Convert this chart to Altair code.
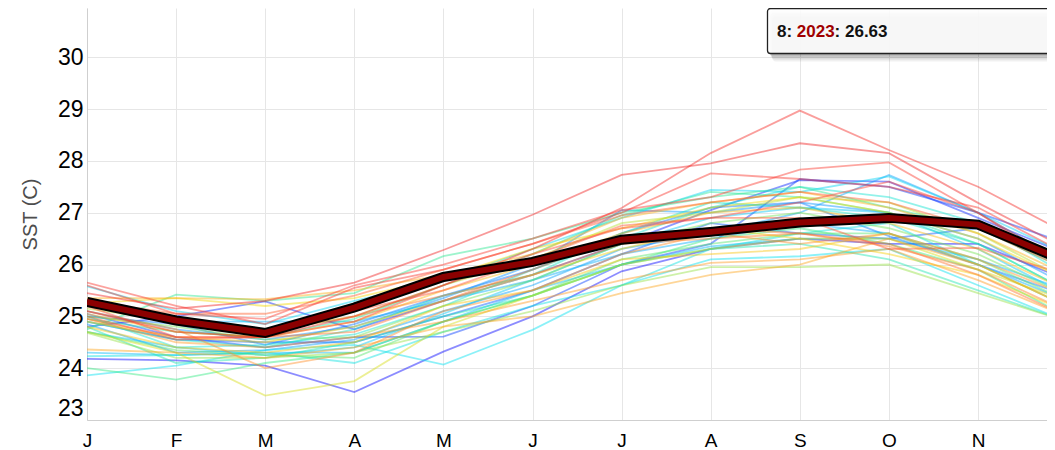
import altair as alt
import pandas as pd

month_labels = ["J", "F", "M", "A", "M", "J", "J", "A", "S", "O", "N", "D"]
months = list(range(1, 13))

y1982 = [24.18, 24.15, 24.05, 23.54, 24.32, 25.00, 25.87, 26.30, 26.50, 26.40, 26.40, 25.70]
y1983 = [24.80, 25.00, 25.29, 24.75, 25.30, 25.80, 26.40, 27.05, 27.63, 27.60, 26.90, 26.20]
y1984 = [25.05, 24.60, 24.40, 24.60, 24.61, 25.20, 26.00, 26.40, 27.65, 27.50, 27.00, 26.40]
y1985 = [24.90, 24.55, 24.50, 24.50, 25.00, 25.50, 26.20, 26.80, 26.60, 26.50, 26.70, 26.00]
y1986 = [25.00, 24.85, 24.45, 24.85, 25.40, 25.90, 26.60, 27.10, 27.20, 26.55, 26.00, 25.40]
y1987 = [25.10, 24.75, 24.55, 24.80, 25.35, 26.00, 27.05, 27.00, 27.20, 27.00, 26.50, 25.60]
y1988 = [24.85, 24.30, 24.35, 24.55, 25.10, 25.60, 26.30, 26.60, 27.00, 27.73, 27.00, 26.00]
y1989 = [25.20, 24.90, 24.90, 24.90, 25.30, 25.70, 26.20, 26.50, 26.80, 26.60, 26.00, 25.30]
y1990 = [24.30, 24.25, 24.30, 24.30, 24.90, 25.50, 26.00, 26.35, 26.50, 26.50, 26.10, 25.50]
y1991 = [24.70, 24.40, 24.25, 24.40, 25.05, 25.70, 26.40, 26.90, 27.10, 27.00, 26.30, 25.40]
y1992 = [25.58, 25.10, 24.85, 25.30, 25.70, 26.30, 26.90, 27.44, 27.40, 27.70, 27.00, 26.20]
y1993 = [23.86, 24.05, 24.35, 24.45, 24.07, 24.74, 25.60, 26.10, 26.16, 26.30, 25.60, 24.90]
y1994 = [24.23, 24.25, 24.30, 24.10, 24.70, 25.20, 25.60, 26.30, 26.60, 26.80, 26.00, 25.20]
y1995 = [25.00, 24.40, 24.45, 24.65, 25.20, 25.90, 26.50, 27.10, 27.50, 27.30, 26.80, 25.80]
y1996 = [24.90, 24.55, 24.40, 24.75, 25.40, 25.80, 26.60, 27.20, 27.10, 26.90, 26.40, 25.50]
y1997 = [24.80, 24.10, 24.20, 24.50, 25.00, 25.40, 26.00, 26.30, 26.40, 26.10, 25.50, 24.90]
y1998 = [24.95, 24.70, 24.60, 24.95, 25.60, 26.20, 26.95, 27.40, 27.30, 27.00, 26.40, 25.50]
y1999 = [24.75, 25.42, 25.30, 25.45, 26.16, 26.50, 27.00, 27.30, 27.50, 27.10, 26.70, 25.90]
y2000 = [24.00, 23.78, 24.10, 24.30, 24.90, 25.40, 26.00, 26.50, 26.70, 26.40, 25.90, 25.00]
y2001 = [24.70, 24.35, 24.25, 24.20, 24.90, 25.40, 26.10, 26.40, 26.60, 26.60, 26.10, 25.30]
y2002 = [25.00, 24.80, 24.55, 24.60, 25.20, 25.70, 26.40, 26.80, 27.00, 26.70, 26.20, 25.40]
y2003 = [24.68, 24.20, 24.20, 24.30, 24.70, 25.10, 25.60, 25.95, 25.95, 26.00, 25.45, 24.90]
y2004 = [25.15, 24.90, 24.70, 25.00, 25.60, 26.10, 26.80, 27.00, 27.30, 27.20, 26.60, 25.70]
y2005 = [24.70, 24.30, 23.47, 23.75, 24.80, 25.40, 26.00, 26.30, 26.50, 26.50, 25.90, 25.30]
y2006 = [25.25, 25.35, 25.20, 25.35, 25.75, 26.30, 26.70, 27.10, 27.30, 27.00, 26.50, 25.70]
y2007 = [24.90, 24.60, 24.50, 24.80, 25.30, 25.80, 26.30, 26.70, 26.50, 26.20, 25.80, 25.10]
y2008 = [24.80, 24.40, 24.30, 24.50, 25.20, 25.50, 26.10, 26.20, 26.30, 26.60, 26.00, 25.20]
y2009 = [25.05, 24.70, 24.60, 24.90, 25.50, 26.00, 26.60, 27.00, 27.10, 26.80, 26.30, 25.50]
y2010 = [25.35, 25.35, 25.33, 25.50, 25.80, 26.20, 26.90, 27.20, 27.40, 27.10, 26.60, 25.80]
y2011 = [24.36, 24.30, 24.20, 24.40, 24.80, 25.00, 25.45, 25.80, 26.00, 26.50, 26.00, 25.20]
y2012 = [24.95, 24.50, 24.40, 24.60, 24.90, 25.30, 25.70, 26.03, 26.10, 26.30, 25.70, 25.00]
y2013 = [25.10, 24.75, 24.00, 24.30, 25.10, 25.50, 26.20, 26.60, 26.40, 26.60, 26.10, 25.40]
y2014 = [25.20, 24.90, 24.70, 25.00, 25.40, 25.80, 26.40, 26.50, 26.60, 26.35, 25.90, 25.10]
y2015 = [24.95, 24.60, 24.60, 24.70, 25.30, 25.90, 26.55, 26.70, 26.60, 26.40, 25.80, 25.00]
y2016 = [25.30, 25.05, 25.05, 25.40, 25.90, 26.40, 26.95, 27.20, 27.40, 27.20, 26.70, 25.90]
y2017 = [25.00, 24.55, 24.60, 25.10, 25.50, 26.10, 26.75, 26.90, 26.90, 26.30, 26.32, 25.80]
y2018 = [25.20, 24.60, 24.60, 24.90, 25.60, 26.20, 26.70, 26.90, 27.20, 27.60, 27.00, 26.00]
y2019 = [25.60, 25.05, 24.95, 25.60, 26.00, 26.50, 27.05, 27.30, 27.83, 27.97, 27.00, 25.90]
y2020 = [25.65, 25.20, 24.85, 25.55, 25.90, 26.40, 27.00, 27.76, 27.65, 27.50, 27.10, 26.20]
y2021 = [25.10, 24.70, 24.60, 25.00, 25.60, 26.30, 27.09, 28.15, 28.97, 28.21, 27.50, 26.60]
y2022 = [25.45, 25.15, 25.30, 25.65, 26.28, 26.96, 27.73, 27.95, 28.34, 28.15, 27.19, 26.30]

sst_2023 = [25.28, 24.92, 24.68, 25.17, 25.76, 26.05, 26.48, 26.63, 26.81, 26.90, 26.77, 26.05]

years = list(range(1982, 2023))
series = [y1982, y1983, y1984, y1985, y1986, y1987, y1988, y1989, y1990, y1991,
          y1992, y1993, y1994, y1995, y1996, y1997, y1998, y1999, y2000, y2001,
          y2002, y2003, y2004, y2005, y2006, y2007, y2008, y2009, y2010, y2011,
          y2012, y2013, y2014, y2015, y2016, y2017, y2018, y2019, y2020, y2021,
          y2022]

color_stops = [1982, 1987, 1993, 2000, 2006, 2012, 2018, 2022]
color_range = ["#0000ff", "#0090ff", "#00e0f0", "#30e880", "#f5d800", "#ff9a20", "#ff4030", "#f02020"]

rows = []
for yr, vals in zip(years, series):
    for m, v in zip(months, vals):
        rows.append({"year": yr, "month": m, "sst": v})
df = pd.DataFrame(rows)
df23 = pd.DataFrame({"month": months, "sst": sst_2023})

tip_month = 8
tip_year = "2023"
tip_value = f"{sst_2023[tip_month - 1]:.2f}"

FONT = "Liberation Sans"
NARROW = "Liberation Sans Narrow, Arial Narrow, Liberation Sans"
label_js = "[" + ",".join(f"'{s}'" for s in month_labels) + "]"

PLOT_W = 960
xscale = alt.Scale(domain=[1, 1 + PLOT_W / 89.1], nice=False, zero=False)
yscale = alt.Scale(domain=[23, 30.95], nice=False, zero=False)

x_enc = alt.X("month:Q", scale=xscale, title=None,
              axis=alt.Axis(values=months, labelExpr=f"{label_js}[datum.value-1]",
                            labelFontSize=19, labelColor="#000", labelFont=NARROW,
                            labelPadding=11, tickSize=0, domainColor="#cfcfcf",
                            gridColor="#e6e6e6", labelFlush=False, labelOverlap=False))
y_enc = alt.Y("sst:Q", scale=yscale, title="SST (C)",
              axis=alt.Axis(values=list(range(23, 31)), labelFontSize=23, labelColor="#000",
                            labelFont=NARROW, labelPadding=4, tickSize=0, domainColor="#cfcfcf",
                            gridColor="#e6e6e6", labelFlush=True, titleFont=FONT,
                            titleFontSize=20, titleFontWeight="normal", titleColor="#4d4d4d",
                            titlePadding=17))

lines = alt.Chart(df).mark_line(strokeWidth=1.8, opacity=0.45, clip=True).encode(
    x=x_enc, y=y_enc,
    color=alt.Color("year:Q", scale=alt.Scale(domain=color_stops, range=color_range,
                                              interpolate="rgb"), legend=None),
    detail="year:N",
)

outline = alt.Chart(df23).mark_line(color="#000", strokeWidth=10, clip=True).encode(
    x=alt.X("month:Q", scale=xscale), y=alt.Y("sst:Q", scale=yscale))
core = alt.Chart(df23).mark_line(color="#8b0000", strokeWidth=6, clip=True).encode(
    x=alt.X("month:Q", scale=xscale), y=alt.Y("sst:Q", scale=yscale))

one = pd.DataFrame({"k": [0]})
shadows = []
for dx, dy, op in [(2, 2, 0.10), (3, 4, 0.10), (4, 6, 0.08), (5, 8, 0.06)]:
    shadows.append(alt.Chart(one).mark_rect(fill="#000", opacity=op, cornerRadius=4).encode(
        x=alt.value(680 + dx), x2=alt.value(1010), y=alt.value(0.5 + dy), y2=alt.value(45.5 + dy)))

box = alt.Chart(one).mark_rect(fill="#fff", fillOpacity=0.9, stroke="#222", strokeWidth=1.3,
                               cornerRadius=3).encode(
    x=alt.value(680.5), x2=alt.value(1010), y=alt.value(0.5), y2=alt.value(45.5))

t1 = alt.Chart(one).mark_text(text=f"{tip_month}: ", align="left", baseline="alphabetic",
                              font=FONT, fontSize=17, fontWeight="bold", color="#111").encode(
    x=alt.value(690), y=alt.value(29.3))
t2 = alt.Chart(one).mark_text(text=tip_year, align="left", baseline="alphabetic",
                              font=FONT, fontSize=17, fontWeight="bold", color="#a00000").encode(
    x=alt.value(709.8), y=alt.value(29.3))
t3 = alt.Chart(one).mark_text(text=f": {tip_value}", align="left", baseline="alphabetic",
                              font=FONT, fontSize=17, fontWeight="bold", color="#111").encode(
    x=alt.value(747.6), y=alt.value(29.3))

chart = alt.layer(lines, outline, core, *shadows, box, t1, t2, t3).properties(
    width=PLOT_W, height=412,
    autosize=alt.AutoSizeParams(type="none"),
    padding={"left": 79, "top": 0, "right": 0, "bottom": 30},
).configure_view(stroke=None)

chart.save("out.html", embed_options={"renderer": "svg", "actions": False})
